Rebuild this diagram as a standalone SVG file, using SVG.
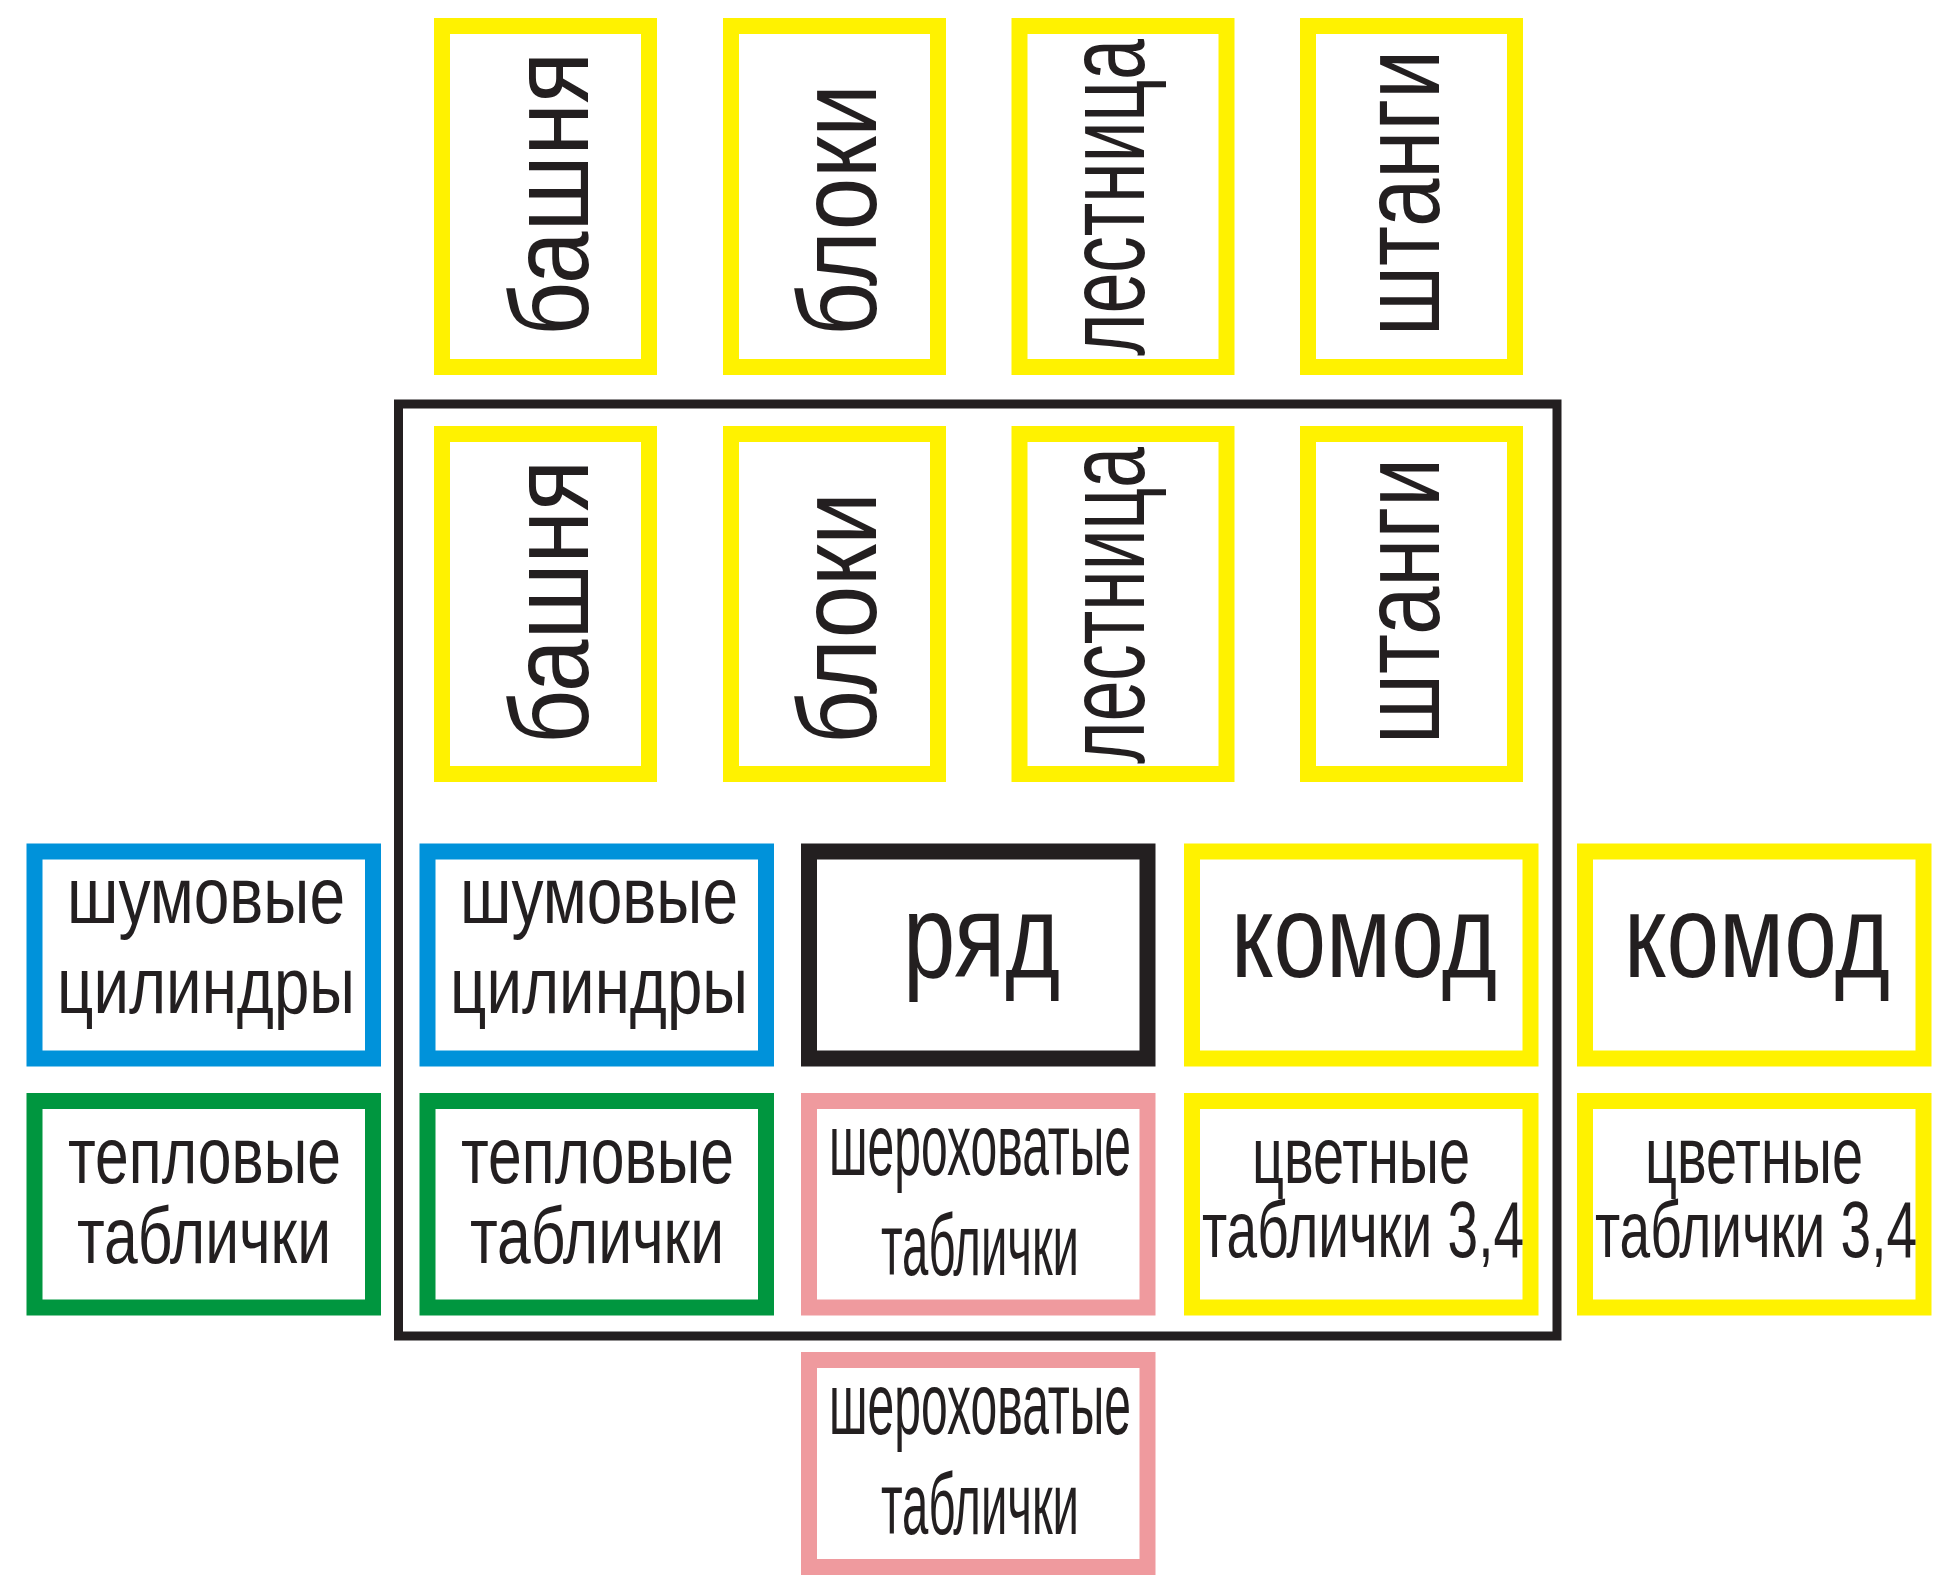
<svg xmlns="http://www.w3.org/2000/svg" width="1933" height="1588" viewBox="0 0 1933 1588">
<style>
.b{fill:none;stroke-width:16}
.y{stroke:#FFF200}
.bl{stroke:#0092DA}
.g{stroke:#00963F}
.p{stroke:#EF9A9E}
.k{stroke:#231F20}
.fr{fill:none;stroke:#231F20;stroke-width:9}
text{font-family:"Liberation Sans",Arial,sans-serif;fill:#231F20}
.v{font-size:112px}
.s{font-size:80px}
.m{font-size:88px}
.L{font-size:118px}
</style>
<rect width="1933" height="1588" fill="#fff"/>
<g id="connectors"></g>
<g id="frame"><rect class="fr" x="398.5" y="404" width="1158.5" height="932"/></g>

<g id="top-bashnya"><rect class="b y" x="442" y="26" width="207" height="341"/><text class="v" transform="translate(588,336) rotate(-90)" textLength="284" lengthAdjust="spacingAndGlyphs">башня</text></g>
<g id="top-bloki"><rect class="b y" x="731" y="26" width="207" height="341"/><text class="v" transform="translate(876,336) rotate(-90)" textLength="252" lengthAdjust="spacingAndGlyphs">блоки</text></g>
<g id="top-lestnica"><rect class="b y" x="1019.5" y="26" width="207" height="341"/><text class="v" transform="translate(1144,356) rotate(-90)" textLength="317" lengthAdjust="spacingAndGlyphs">лестница</text></g>
<g id="top-shtangi"><rect class="b y" x="1308" y="26" width="207" height="341"/><text class="v" transform="translate(1439,336) rotate(-90)" textLength="286" lengthAdjust="spacingAndGlyphs">штанги</text></g>

<g id="in-bashnya"><rect class="b y" x="442" y="434" width="207" height="340"/><text class="v" transform="translate(588,744) rotate(-90)" textLength="284" lengthAdjust="spacingAndGlyphs">башня</text></g>
<g id="in-bloki"><rect class="b y" x="731" y="434" width="207" height="340"/><text class="v" transform="translate(876,744) rotate(-90)" textLength="252" lengthAdjust="spacingAndGlyphs">блоки</text></g>
<g id="in-lestnica"><rect class="b y" x="1019.5" y="434" width="207" height="340"/><text class="v" transform="translate(1144,764) rotate(-90)" textLength="317" lengthAdjust="spacingAndGlyphs">лестница</text></g>
<g id="in-shtangi"><rect class="b y" x="1308" y="434" width="207" height="340"/><text class="v" transform="translate(1439,744) rotate(-90)" textLength="286" lengthAdjust="spacingAndGlyphs">штанги</text></g>

<g id="out-shumovye"><rect class="b bl" x="34.5" y="851.5" width="338.5" height="207"/><text class="s" x="67" y="923" textLength="278" lengthAdjust="spacingAndGlyphs">шумовые</text><text class="s" x="57" y="1013" textLength="298" lengthAdjust="spacingAndGlyphs">цилиндры</text></g>
<g id="in-shumovye"><rect class="b bl" x="427.5" y="851.5" width="338.5" height="207"/><text class="s" x="460" y="923" textLength="278" lengthAdjust="spacingAndGlyphs">шумовые</text><text class="s" x="450" y="1013" textLength="298" lengthAdjust="spacingAndGlyphs">цилиндры</text></g>
<g id="ryad"><rect class="b k" x="809" y="851.5" width="338.5" height="207"/><text class="L" x="903" y="977" textLength="157" lengthAdjust="spacingAndGlyphs">ряд</text></g>
<g id="in-komod"><rect class="b y" x="1192" y="851.5" width="338.5" height="207"/><text class="L" x="1231" y="977" textLength="266" lengthAdjust="spacingAndGlyphs">комод</text></g>
<g id="out-komod"><rect class="b y" x="1585" y="851.5" width="338.5" height="207"/><text class="L" x="1624" y="977" textLength="266" lengthAdjust="spacingAndGlyphs">комод</text></g>

<g id="out-teplovye"><rect class="b g" x="34.5" y="1101" width="338.5" height="206.5"/><text class="s" x="68" y="1183" textLength="273" lengthAdjust="spacingAndGlyphs">тепловые</text><text class="s" x="77" y="1263" textLength="254" lengthAdjust="spacingAndGlyphs">таблички</text></g>
<g id="in-teplovye"><rect class="b g" x="427.5" y="1101" width="338.5" height="206.5"/><text class="s" x="461" y="1183" textLength="273" lengthAdjust="spacingAndGlyphs">тепловые</text><text class="s" x="470" y="1263" textLength="254" lengthAdjust="spacingAndGlyphs">таблички</text></g>
<g id="in-sherohovatye"><rect class="b p" x="809" y="1101" width="338.5" height="206.5"/><text class="m" x="829" y="1175" textLength="302" lengthAdjust="spacingAndGlyphs">шероховатые</text><text class="m" x="881" y="1275" textLength="198" lengthAdjust="spacingAndGlyphs">таблички</text></g>
<g id="in-cvetnye"><rect class="b y" x="1192" y="1101" width="338.5" height="206.5"/><text class="s" x="1252" y="1183" textLength="218" lengthAdjust="spacingAndGlyphs">цветные</text><text class="s" x="1202" y="1257" textLength="322" lengthAdjust="spacingAndGlyphs">таблички 3,4</text></g>
<g id="out-cvetnye"><rect class="b y" x="1585" y="1101" width="338.5" height="206.5"/><text class="s" x="1645" y="1183" textLength="218" lengthAdjust="spacingAndGlyphs">цветные</text><text class="s" x="1595" y="1257" textLength="322" lengthAdjust="spacingAndGlyphs">таблички 3,4</text></g>

<g id="out-sherohovatye"><rect class="b p" x="809" y="1360" width="338.5" height="207"/><text class="m" x="829" y="1434" textLength="302" lengthAdjust="spacingAndGlyphs">шероховатые</text><text class="m" x="881" y="1534" textLength="198" lengthAdjust="spacingAndGlyphs">таблички</text></g>
</svg>
